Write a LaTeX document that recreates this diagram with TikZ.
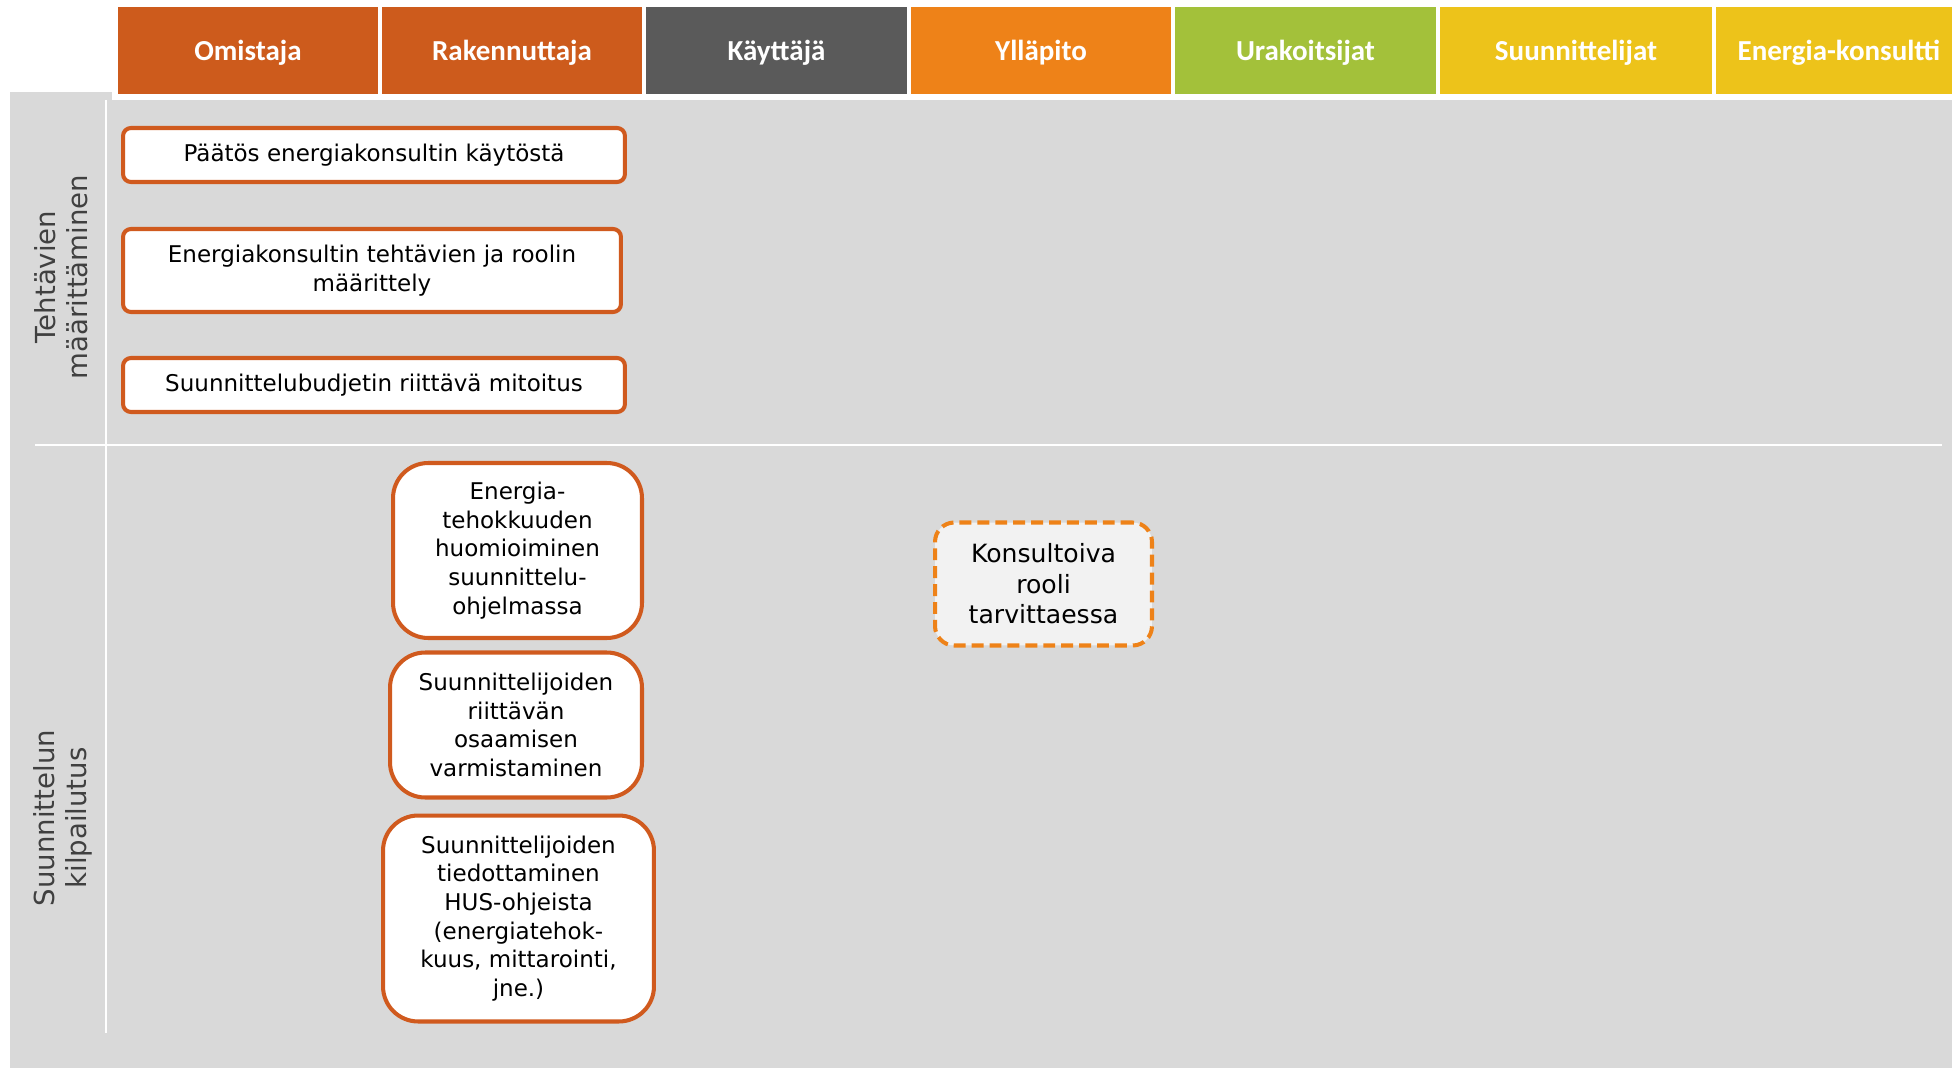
\documentclass[tikz,border=0pt]{standalone}
\usepackage{fontspec}
\setmainfont{DejaVu Sans}
\newfontfamily\headfont{Carlito}
\definecolor{rust}{HTML}{CD5B1C}
\definecolor{boxline}{HTML}{D05A1E}
\definecolor{darkgrey}{HTML}{5A5A5A}
\definecolor{amber}{HTML}{EE8218}
\definecolor{lime}{HTML}{A3C13A}
\definecolor{mustard}{HTML}{EDC31A}
\definecolor{lanegrey}{HTML}{D9D9D9}
\definecolor{labelgrey}{HTML}{404040}
\tikzset{
  head/.style={draw=white, line width=1.7pt, minimum height=1.8cm, inner sep=0pt,
    text depth=0pt, text=white, font=\headfont\bfseries\fontsize{16.5pt}{20pt}\selectfont},
  lane/.style={rotate=90, align=center, text=labelgrey,
    font=\fontsize{15.7pt}{18.2pt}\selectfont},
  task/.style={draw=boxline, line width=2.3pt, fill=white, align=center, inner sep=0pt,
    font=\fontsize{13.1pt}{16.3pt}\selectfont},
  flat/.style={task, rounded corners=4.5pt},
  tall/.style={task, rounded corners=20pt},
  optional/.style={draw=amber, line width=2.3pt, dash pattern=on 6.8pt off 3.4pt,
    fill=black!5, rounded corners=11pt, align=center, inner sep=0pt,
    font=\fontsize{14.3pt}{17.4pt}\selectfont}
}
\begin{document}
\begin{tikzpicture}[x=0.02cm, y=-0.02cm]
\useasboundingbox (0,0) rectangle (1952,1068);
\fill[lanegrey] (10,92) rectangle (1952,1068);
\fill[white] (112,0) rectangle (1952,100);
\draw[white, line width=1.1pt] (106,100) -- (106,1033);
\draw[white, line width=1.1pt] (35,445) -- (1942,445);
% roles
\node[head, fill=rust, minimum width=5.28cm] (owner) at (248,50.5) {Omistaja};
\node[head, fill=rust, minimum width=5.28cm] (developer) at (512,50.5) {Rakennuttaja};
\node[head, fill=darkgrey, minimum width=5.3cm] (user) at (776.5,50.5) {Käyttäjä};
\node[head, fill=amber, minimum width=5.28cm] (upkeep) at (1041,50.5) {Ylläpito};
\node[head, fill=lime, minimum width=5.3cm] (contractor) at (1305.5,50.5) {Urakoitsijat};
\node[head, fill=mustard, minimum width=5.52cm] (designer) at (1576,50.5) {Suunnittelijat};
\node[head, fill=mustard, minimum width=5cm] (consultant) at (1839,50.5) {Energia-konsultti};
% phases
\node[lane] (define) at (61,277) {Tehtävien\\määrittäminen};
\node[lane] (tender) at (63,818) {Suunnittelun\\kilpailutus};
% tasks
\node[flat, minimum width=10.04cm, minimum height=1.08cm] (decision) at (374,155) {Päätös energiakonsultin käytöstä};
\node[flat, minimum width=9.96cm, minimum height=1.66cm] (roles) at (372,270.5) {Energiakonsultin tehtävien ja roolin\\määrittely};
\node[flat, minimum width=10.04cm, minimum height=1.08cm] (budget) at (374,385) {Suunnittelubudjetin riittävä mitoitus};
\node[tall, minimum width=4.98cm, minimum height=3.5cm] (program) at (517.5,550.5) {Energia-\\tehokkuuden\\huomioiminen\\suunnittelu-\\ohjelmassa};
\node[tall, minimum width=5.04cm, minimum height=2.9cm] (skills) at (516,725) {Suunnittelijoiden\\riittävän\\osaamisen\\varmistaminen};
\node[tall, minimum width=5.42cm, minimum height=4.12cm] (guides) at (518.5,918.5) {Suunnittelijoiden\\tiedottaminen\\HUS-ohjeista\\(energiatehok-\\kuus, mittarointi,\\jne.)};
\node[optional, minimum width=4.34cm, minimum height=2.46cm] (advise) at (1043.5,584) {Konsultoiva\\rooli\\tarvittaessa};
\end{tikzpicture}
\end{document}
